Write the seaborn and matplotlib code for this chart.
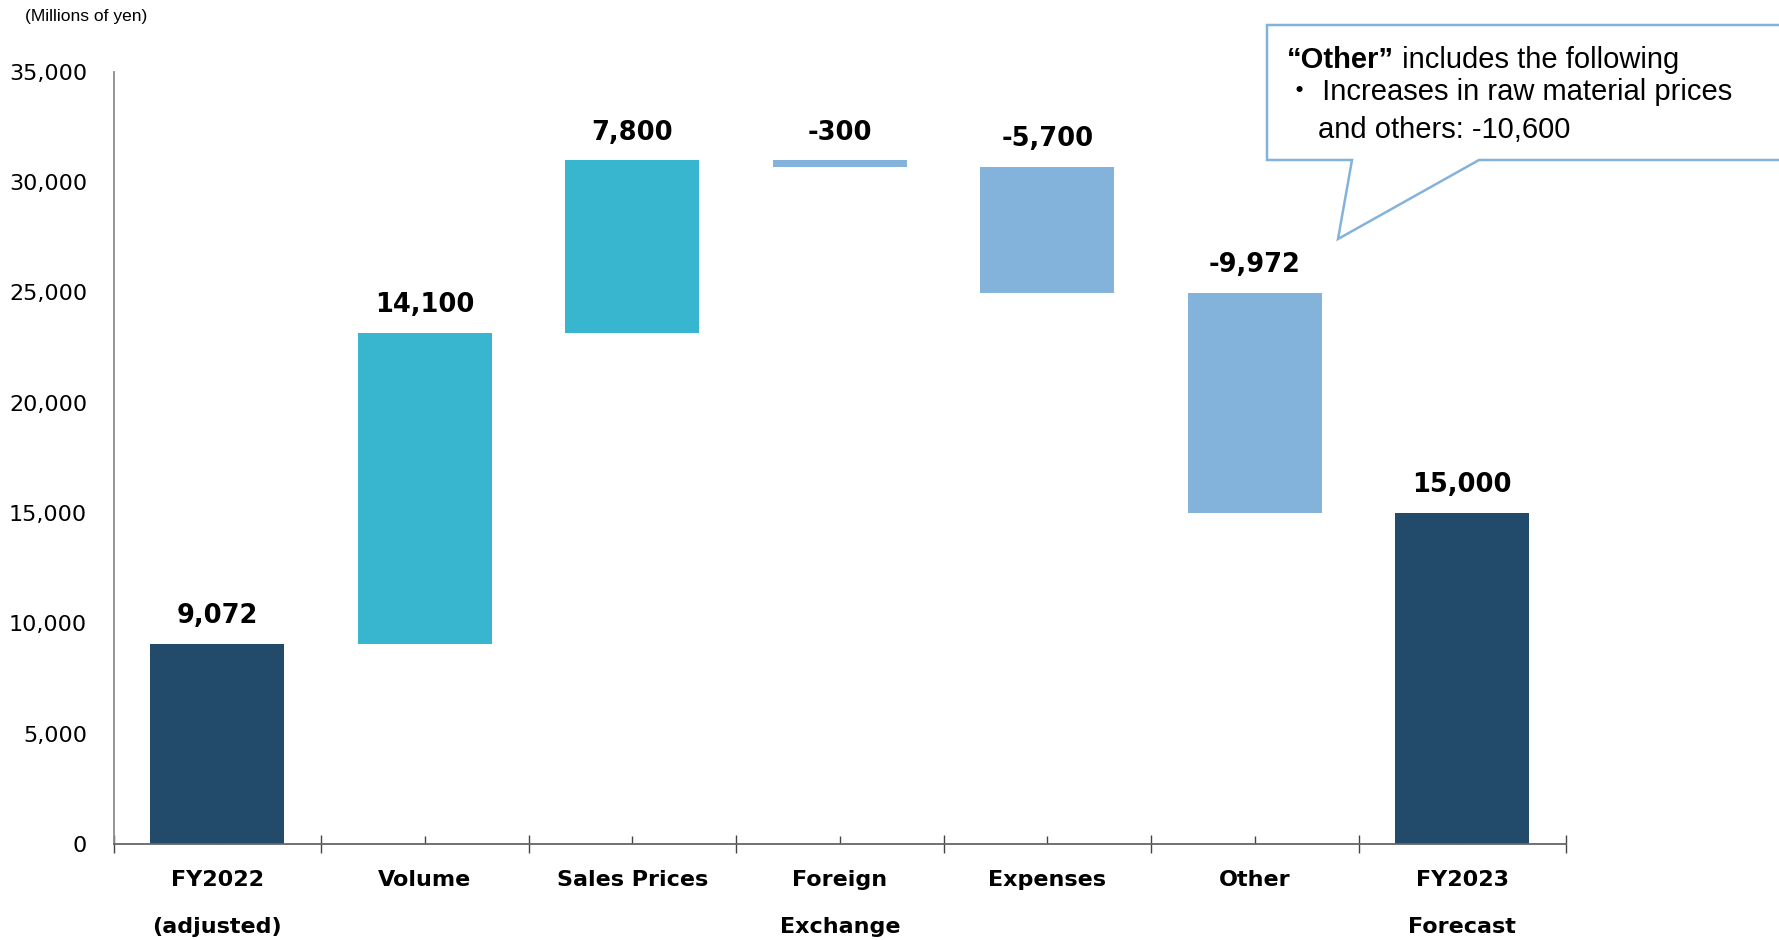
import pandas as pd
import numpy as np
import matplotlib
matplotlib.use("Agg")
import matplotlib.pyplot as plt
from matplotlib.patches import Polygon
import seaborn as sns

# chart data
categories = ["FY2022\n(adjusted)", "Volume", "Sales Prices", "Foreign\nExchange",
              "Expenses", "Other", "FY2023\nForecast"]
values = [9072, 14100, 7800, -300, -5700, -9972, 15000]
kinds = ["total", "change", "change", "change", "change", "change", "total"]
y_ticks = [0, 5000, 10000, 15000, 20000, 25000, 30000, 35000]
unit_label = "(Millions of yen)"
note_title_bold = "\u201cOther\u201d"
note_title_rest = " includes the following"
note_line2 = "\u30fb Increases in raw material prices"
note_line3 = "and others: -10,600"

NAVY = "#214A6B"
TEAL = "#38B5CF"
LIGHT = "#83B3DB"

# waterfall geometry
bottoms, heights, colors = [], [], []
running = 0
for v, k in zip(values, kinds):
    if k == "total":
        bottoms.append(0)
        heights.append(v)
        colors.append(NAVY)
        running = v
    elif v >= 0:
        bottoms.append(running)
        heights.append(v)
        colors.append(TEAL)
        running += v
    else:
        bottoms.append(running + v)
        heights.append(-v)
        colors.append(LIGHT)
        running += v

df = pd.DataFrame({"item": categories, "height": heights})

sns.set_theme(style="white")
plt.rcParams["font.family"] = ["DejaVu Sans"]
plt.rcParams["text.color"] = "black"
plt.rcParams["xtick.color"] = "black"
plt.rcParams["ytick.color"] = "black"

W, H = 1779, 940
fig = plt.figure(figsize=(W / 100, H / 100), dpi=100)
ax = fig.add_axes([113.5 / W, 1 - 844 / H, (1566 - 113.5) / W, (844 - 71.5) / H])

sns.barplot(data=df, x="item", y="height", order=categories, bottom=bottoms,
            width=0.645, color=NAVY, errorbar=None, linewidth=0, ax=ax)
for patch, c in zip(ax.patches, colors):
    patch.set_facecolor(c)
    patch.set_edgecolor("none")

# value labels
for i, v in enumerate(values):
    top = bottoms[i] + heights[i]
    ax.annotate(f"{v:,}", xy=(i, top), xytext=(0, 15), textcoords="offset points",
                ha="center", va="baseline", fontsize=18.5, fontweight="bold", color="black")

ax.set_ylim(0, 35000)
ax.set_xlim(-0.5, len(categories) - 0.5)
ax.set_yticks(y_ticks)
ax.set_yticklabels([f"{t:,}" for t in y_ticks], fontsize=16, color="black")
ax.tick_params(axis="y", left=False, length=0, pad=19)

n = len(categories)
ax.set_xticks(np.arange(n + 1) - 0.5)
ax.set_xticklabels([""] * (n + 1))
ax.set_xticks(np.arange(n), minor=True)
ax.set_xticklabels(categories, minor=True, fontsize=16, fontweight="bold",
                   linespacing=2.68, color="black")
ax.tick_params(axis="x", which="major", bottom=True, direction="inout", length=13,
               width=1, color="#444444")
ax.tick_params(axis="x", which="minor", bottom=True, direction="in", length=5.8,
               width=1, color="#444444", pad=19)
ax.set_xlabel("")
ax.set_ylabel("")

for s in ["top", "right"]:
    ax.spines[s].set_visible(False)
ax.spines["left"].set_color("#8C8C8C")
ax.spines["left"].set_linewidth(1.3)
ax.spines["bottom"].set_color("#666666")
ax.spines["bottom"].set_linewidth(1.3)


def px(x, y):
    return (x / W, 1 - y / H)


fig.text(*px(25, 17), unit_label, fontsize=12.5, family="Liberation Sans", va="center", ha="left")

# callout
pts = [px(1267, 25), px(1800, 25), px(1800, 160), px(1479, 160), px(1338, 239),
       px(1352, 160), px(1267, 160)]
fig.patches.append(Polygon(pts, closed=True, facecolor="white", edgecolor=LIGHT,
                           linewidth=1.8, transform=fig.transFigure, figure=fig))

t1 = fig.text(*px(1287, 68), note_title_bold, fontsize=21, fontweight="bold",
              family="Liberation Sans", va="baseline", ha="left", zorder=3)
fig.canvas.draw()
bb = t1.get_window_extent()
fig.text(bb.x1 / W, px(0, 68)[1], note_title_rest, fontsize=21, family="Liberation Sans",
         va="baseline", ha="left", zorder=3)
fig.text(*px(1285, 100), note_line2, fontsize=21,
         family=["Liberation Sans", "Noto Sans CJK JP"], va="baseline", ha="left", zorder=3)
fig.text(*px(1318, 138), note_line3, fontsize=21, family="Liberation Sans",
         va="baseline", ha="left", zorder=3)

fig.savefig("out.png", dpi=100)
